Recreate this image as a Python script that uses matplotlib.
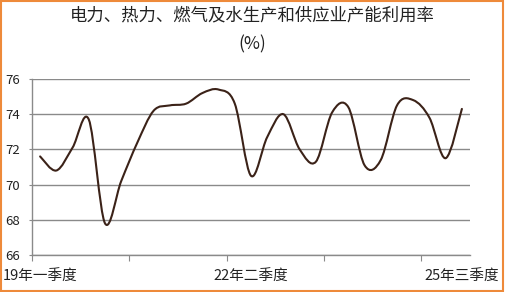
import numpy as np
import matplotlib
matplotlib.use("Agg")
import matplotlib.pyplot as plt
from matplotlib.path import Path
from matplotlib.patches import PathPatch, Rectangle

plt.rcParams['font.family'] = ['Noto Sans CJK SC', 'DejaVu Sans']

# quarters 2019Q1 .. 2025Q3
cn_q = ['一', '二', '三', '四']
quarters = [f'{y}年{cn_q[q]}季度' for y in range(19, 26) for q in range(4)][:27]
rate = [71.6, 70.8, 72.1, 73.7, 67.8, 70.2, 72.4, 74.2, 74.5, 74.6,
        75.2, 75.4, 74.6, 70.5, 72.7, 74.0, 72.0, 71.3, 74.1, 74.4,
        71.1, 71.4, 74.5, 74.8, 73.8, 71.5, 74.3]
label_idx = [0, 13, 26]

title = '电力、热力、燃气及水生产和供应业产能利用率'
unit = '(%)'


def smooth_path(x, y):
    """Catmull-Rom style bezier through every data point (like Excel smoothed line)"""
    pts = np.column_stack([x, y]).astype(float)
    n = len(pts)
    verts = [pts[0]]
    codes = [Path.MOVETO]
    for i in range(n - 1):
        p0 = pts[i - 1] if i > 0 else pts[i]
        p1 = pts[i]
        p2 = pts[i + 1]
        p3 = pts[i + 2] if i + 2 < n else pts[i + 1]
        c1 = p1 + (p2 - p0) / 6.0
        c2 = p2 - (p3 - p1) / 6.0
        verts += [c1, c2, p2]
        codes += [Path.CURVE4] * 3
    return Path(verts, codes)


fig = plt.figure(figsize=(5.05, 2.92), dpi=100, facecolor='white')
ax = fig.add_axes([32 / 505, 37 / 292, 438 / 505, 176 / 292])

x = np.arange(len(rate))
ax.add_patch(PathPatch(smooth_path(x, rate), facecolor='none',
                       edgecolor='#3b2218', lw=1.5, zorder=3,
                       capstyle='round', joinstyle='round'))

ax.set_xlim(-0.5, len(rate) - 0.5)
ax.set_ylim(66, 76)
ax.set_yticks(np.arange(66, 77, 2))
ax.yaxis.grid(True, color='#8a8a8a', lw=1)
ax.set_axisbelow(True)

ax.set_xticks(np.arange(-0.5, len(rate) - 1, 6))
ax.set_xticklabels([])
ax.set_xticks(label_idx, minor=True)
ax.set_xticklabels([quarters[i] for i in label_idx], minor=True)
ax.tick_params(axis='x', which='major', length=4, color='#8a8a8a', direction='out')
ax.tick_params(axis='x', which='minor', length=0, pad=11, labelsize=10.5, labelcolor='#222222')
ax.tick_params(axis='y', length=2.5, color='#8a8a8a', pad=6, labelsize=9.5, labelcolor='#222222')

for s in ['top', 'right']:
    ax.spines[s].set_visible(False)
for s in ['left', 'bottom']:
    ax.spines[s].set_color('#8a8a8a')
    ax.spines[s].set_linewidth(1)

fig.text(0.5, 1 - 15 / 292, title, ha='center', va='center', fontsize=12.5, color='#222222')
fig.text(0.5, 1 - 44 / 292, unit, ha='center', va='center', fontsize=12.5, color='#222222')

# orange frame around the picture
fig.add_artist(Rectangle((0.002, 0.003), 0.995, 0.994, transform=fig.transFigure,
                         fill=False, edgecolor='#ee8a3a', lw=1.5))

fig.savefig('out.png', dpi=100, facecolor='white')
